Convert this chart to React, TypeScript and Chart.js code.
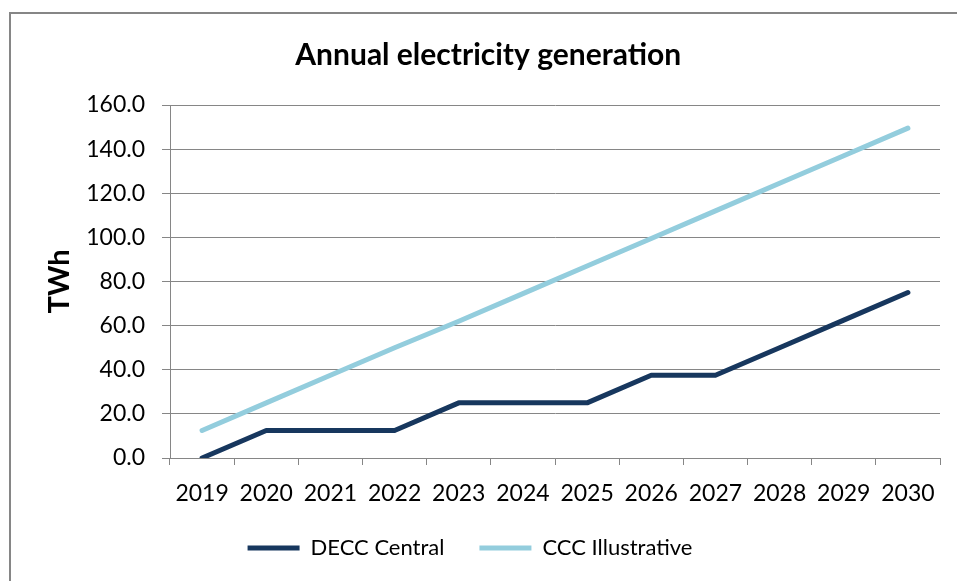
import React, { useEffect, useRef } from "react";
import { Chart, registerables } from "chart.js";

Chart.register(...registerables);

const years = ["2019", "2020", "2021", "2022", "2023", "2024", "2025", "2026", "2027", "2028", "2029", "2030"];
const deccCentral = [0, 12.5, 12.5, 12.5, 25, 25, 25, 37.5, 37.5, 50, 62.5, 75];
const cccIllustrative = [12.5, 25, 37.5, 50, 62, 74.5, 87, 99.5, 112, 124.5, 137, 149.5];
const seriesNames = ["DECC Central", "CCC Illustrative"];
const chartTitle = "Annual electricity generation";
const yTitle = "TWh";

const FONT = "Lato, 'Open Sans', sans-serif";
const GRID = "#868686";

export default function App() {
  const ref = useRef<HTMLCanvasElement | null>(null);

  useEffect(() => {
    if (!ref.current) return;
    const chart = new Chart(ref.current, {
      type: "line",
      data: {
        labels: years,
        datasets: [
          {
            label: seriesNames[0],
            data: deccCentral,
            borderColor: "#17375E",
            backgroundColor: "#17375E",
            borderWidth: 5,
            borderCapStyle: "round",
            borderJoinStyle: "round",
            pointRadius: 0,
            tension: 0,
          },
          {
            label: seriesNames[1],
            data: cccIllustrative,
            borderColor: "#93CDDD",
            backgroundColor: "#93CDDD",
            borderWidth: 5,
            borderCapStyle: "round",
            borderJoinStyle: "round",
            pointRadius: 0,
            tension: 0,
          },
        ],
      },
      options: {
        responsive: false,
        animation: false,
        layout: { padding: { left: 0, right: 17, top: 0, bottom: 12 } },
        plugins: {
          title: {
            display: true,
            text: "     " + chartTitle,
            color: "#000",
            font: { family: FONT, size: 30, weight: "bold", lineHeight: 1.2 },
            padding: { top: 37, bottom: 32 },
          },
          legend: {
            position: "bottom",
            labels: {
              usePointStyle: true,
              pointStyle: "line",
              pointStyleWidth: 52,
              padding: 35,
              color: "#000",
              font: { family: FONT, size: 22 },
            },
          },
          tooltip: { enabled: false },
        },
        scales: {
          x: {
            offset: true,
            grid: { offset: true, drawOnChartArea: false, drawTicks: true, tickLength: 7, color: GRID },
            border: { color: GRID, width: 1 },
            ticks: { color: "#000", font: { family: FONT, size: 23 }, padding: 15, maxRotation: 0, autoSkip: false },
            afterFit: (s: any) => {
              s.height = 44;
            },
          },
          y: {
            min: 0,
            max: 160,
            ticks: {
              stepSize: 20,
              color: "#000",
              font: { family: FONT, size: 23 },
              padding: 17,
              callback: (v: any) => Number(v).toFixed(1),
            },
            grid: { color: GRID, tickLength: 8 },
            border: { color: GRID, width: 1 },
            title: {
              display: true,
              text: yTitle,
              color: "#000",
              font: { family: FONT, size: 29, weight: "bold", lineHeight: 1.2 },
              padding: { top: 42.6, bottom: 0 },
            },
            afterFit: (s: any) => {
              s.width = 170;
            },
          },
        },
      },
    });
    return () => chart.destroy();
  }, []);

  return (
    <div style={{ position: "fixed", left: 0, top: 0, width: 957, height: 581, overflow: "hidden", background: "#fff" }}>
      <div
        style={{
          position: "absolute",
          left: 9,
          top: 12,
          width: 1100,
          height: 800,
          border: "2px solid #868686",
        }}
      />
      <canvas ref={ref} width={957} height={581} style={{ position: "absolute", left: 0, top: 0 }} />
    </div>
  );
}
